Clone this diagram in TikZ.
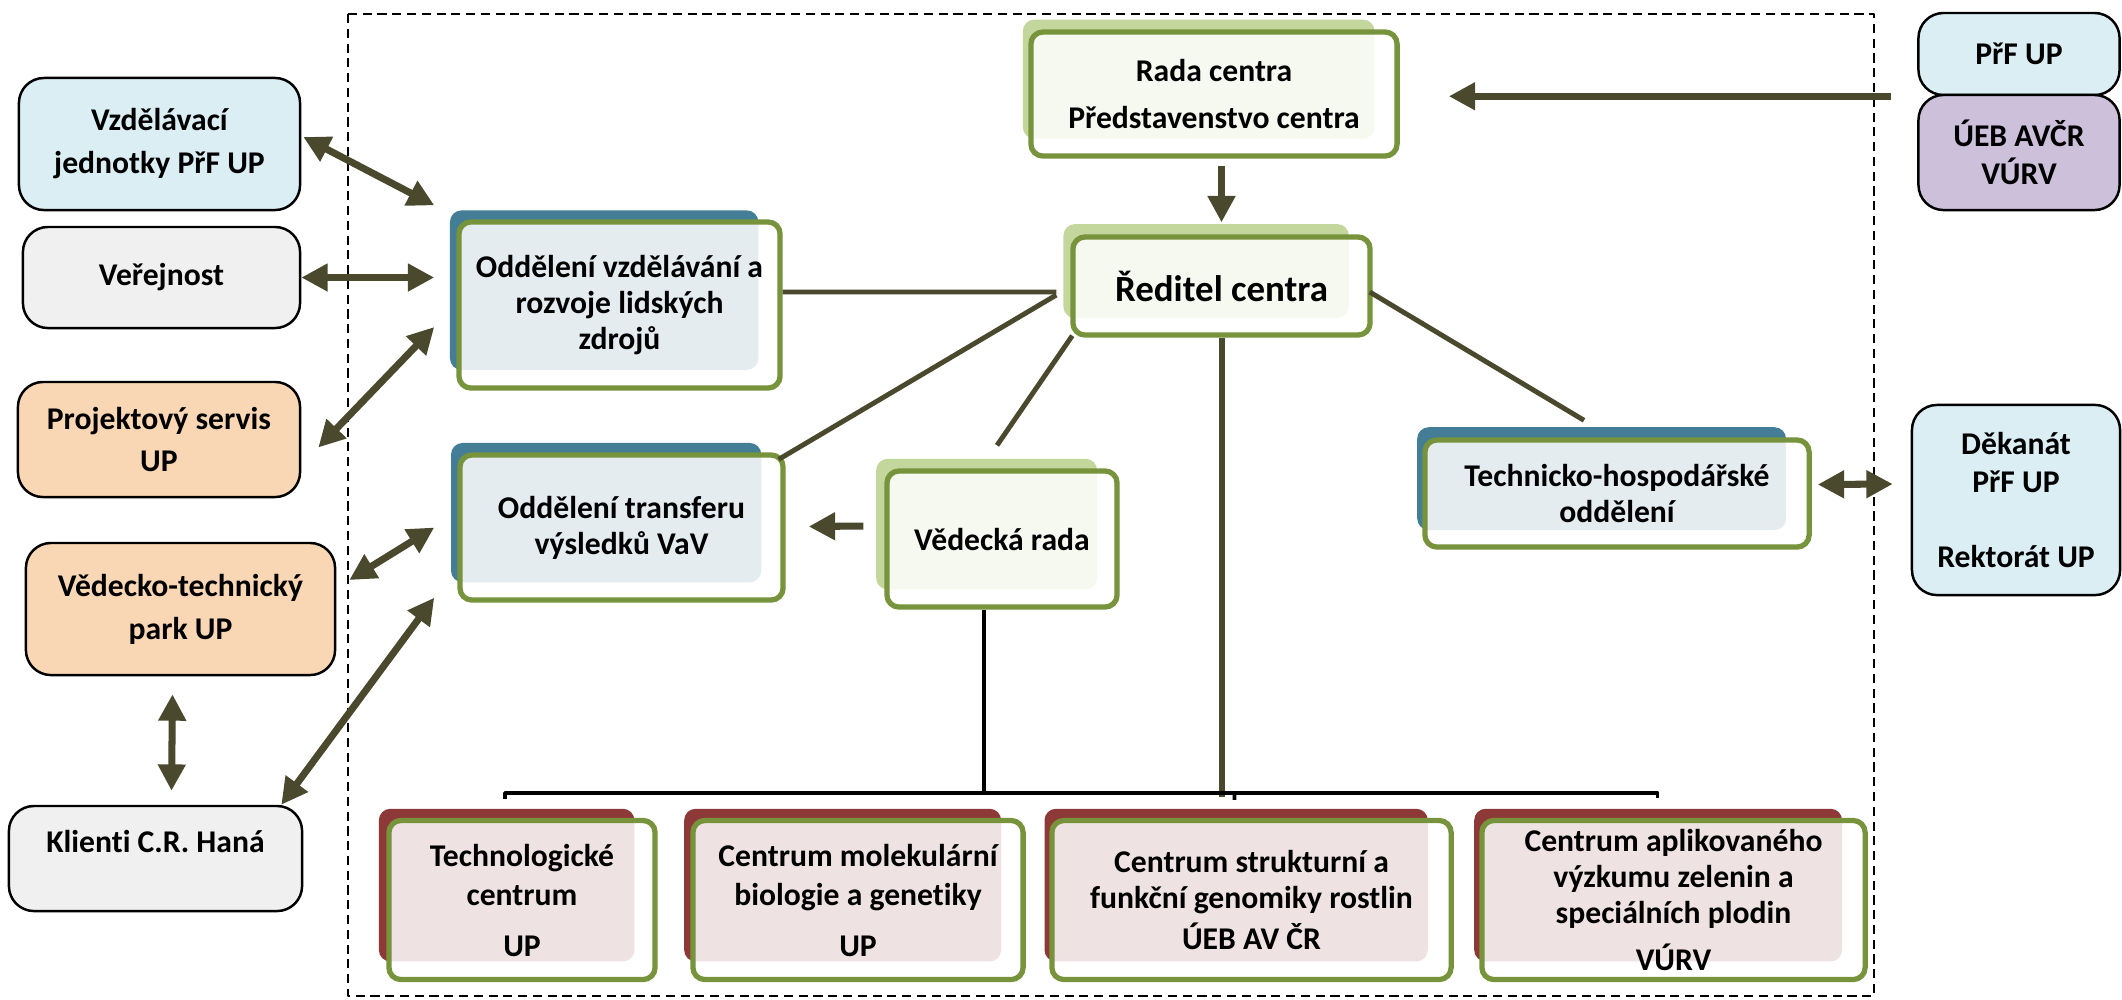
\documentclass[tikz,border=0pt]{standalone}
\usepackage{fontspec}
\setmainfont{Carlito}[Ligatures=NoCommon]
\usetikzlibrary{arrows.meta,shadows}

\definecolor{linkolive}{RGB}{74,73,46}
\definecolor{frontgreen}{RGB}{119,147,60}
\definecolor{tealback}{RGB}{67,126,150}
\definecolor{greenback}{RGB}{195,214,155}
\definecolor{redback}{RGB}{140,57,55}
\definecolor{paleblue}{RGB}{219,238,244}
\definecolor{palegrey}{RGB}{240,240,240}
\definecolor{peach}{RGB}{250,215,180}
\definecolor{lavender}{RGB}{204,192,218}

\tikzset{
  outerbox/.style={draw=black, line width=0.7pt, rounded corners=0.25cm, align=center, inner sep=0pt,
    font=\fontsize{9}{12.2}\selectfont\bfseries},
  unitbox/.style={draw=frontgreen, line width=1.5pt, fill=white, fill opacity=0.86, text opacity=1,
    rounded corners=0.12cm, align=center, inner sep=0pt, font=\fontsize{9}{10.3}\selectfont\bfseries},
  backing/.style={general shadow={shadow xshift=-0.16cm, shadow yshift=0.155cm, shadow scale=0.96,
    fill=#1, draw=none, fill opacity=1}},
  biarrow/.style={<->, draw=linkolive, line width=2pt},
  onearrow/.style={->, draw=linkolive, line width=2pt},
  link/.style={draw=linkolive, line width=1.4pt},
  bracket/.style={draw=black, line width=1.1pt},
}

\begin{document}
\begin{tikzpicture}[x=0.01cm, y=-0.01cm, line join=round, >={Triangle[length=7.5pt,width=7.5pt]}]
\useasboundingbox[fill=white] (0,0) rectangle (2122,999);
% frame of the centre
\draw[line width=0.6pt, dash pattern=on 2.6pt off 1.6pt] (348,14) rectangle (1874,996);

% partners outside
\node[outerbox, fill=paleblue, minimum width=2.81cm, minimum height=1.32cm] (vzdjed) at (159.5,144) {Vzdělávací\\jednotky PřF UP};
\node[outerbox, fill=palegrey, minimum width=2.77cm, minimum height=1.01cm] (verej) at (161.5,277.5) {Veřejnost};
\node[outerbox, fill=peach, minimum width=2.82cm, minimum height=1.15cm] (projserv) at (159,439.5) {Projektový servis\\UP};
\node[outerbox, fill=peach, minimum width=3.09cm, minimum height=1.32cm] (vtpark) at (180.5,609) {Vědecko-technický\\park UP};
\node[outerbox, fill=palegrey, minimum width=2.93cm, minimum height=1.05cm] (klienti) at (155.5,858.5) {Klienti C.R. Haná\\[-2.5pt]\mbox{}};
\node[outerbox, fill=paleblue, minimum width=2.01cm, minimum height=0.82cm] (prf) at (2019,54) {PřF UP};
\node[outerbox, fill=lavender, minimum width=2.01cm, minimum height=1.15cm, font=\fontsize{9}{10.8}\selectfont\bfseries] (ueb) at (2019,152.5) {ÚEB AVČR\\VÚRV};
\node[outerbox, fill=paleblue, minimum width=2.08cm, minimum height=1.90cm, font=\fontsize{9}{10.8}\selectfont\bfseries] (dekanat) at (2016,500) {Děkanát\\PřF UP\\[10.8pt]Rektorát UP};

% units of the centre
\node[unitbox, backing=greenback, minimum width=3.66cm, minimum height=1.24cm] (rada) at (1214,94) {Rada centra\\[3.3pt]Představenstvo centra};
\node[unitbox, backing=greenback, minimum width=2.97cm, minimum height=0.98cm, font=\fontsize{10.5}{12}\selectfont\bfseries] (reditel) at (1221.5,286) {Ředitel centra};
\node[unitbox, backing=tealback, minimum width=3.21cm, minimum height=1.66cm] (vzd) at (619.5,305) {Oddělení vzdělávání a\\rozvoje lidských\\zdrojů};
\node[unitbox, backing=tealback, minimum width=3.23cm, minimum height=1.45cm] (transfer) at (621.5,527.5) {Oddělení transferu\\výsledků VaV};
\node[unitbox, backing=greenback, minimum width=2.30cm, minimum height=1.36cm] (vedecka) at (1002,539) {Vědecká rada};
\node[unitbox, backing=tealback, minimum width=3.84cm, minimum height=1.07cm] (techhosp) at (1617,493.5) {Technicko-hospodářské\\oddělení};
\node[unitbox, backing=redback, minimum width=2.66cm, minimum height=1.59cm] (tech) at (522,900) {Technologické\\[1pt]centrum\\[4pt]UP};
\node[unitbox, backing=redback, minimum width=3.30cm, minimum height=1.59cm] (molbio) at (858,900) {Centrum molekulární\\[1pt]biologie a genetiky\\[4pt]UP};
\node[unitbox, backing=redback, minimum width=3.99cm, minimum height=1.59cm] (struktur) at (1251.5,900) {Centrum strukturní a\\funkční genomiky rostlin\\[1.5pt]ÚEB AV ČR};
\node[unitbox, backing=redback, minimum width=3.83cm, minimum height=1.59cm] (aplik) at (1673.5,900) {Centrum aplikovaného\\výzkumu zelenin a\\speciálních plodin\\[3pt]VÚRV};

% arrows across the frame
\draw[biarrow] ([shift={(2,-7)}]vzdjed.east) -- ([shift={(-22,-14)}]vzd.north west);
\draw[biarrow] (verej.east) -- ([xshift=-0.22cm]verej.east -| vzd.west);
\draw[biarrow] ([shift={(17,8)}]projserv.east) -- ([shift={(-22,22)}]vzd.west);
\draw[biarrow] ([shift={(13,-29)}]vtpark.east) -- ([xshift=-0.23cm]transfer.west);
\draw[biarrow] ([shift={(-8,18)}]vtpark.south) -- ([shift={(16,-14)}]klienti.north);
\draw[biarrow] ([xshift=-0.22cm]klienti.north east) -- ([shift={(-23,-5)}]transfer.south west);
\draw[onearrow] ([xshift=-0.26cm]prf.south west) -- ([xshift=0.49cm]rada.east |- prf.south west);
\draw[biarrow] ([shift={(6,-9)}]techhosp.east) -- ([shift={(-18,-16)}]dekanat.west);

% inside the centre
\draw[onearrow] ([yshift=-0.07cm]reditel.north |- rada.south) -- ([yshift=0.12cm]reditel.north);
\draw[onearrow] ([shift={(-21,-13)}]vedecka.west) -- ([shift={(23,-1)}]transfer.east);
\draw[link] ([yshift=0.13cm]vzd.east) -- ([shift={(-14,6)}]reditel.west);
\draw[link] ([shift={(-14,9)}]reditel.west) -- ([shift={(-7,7)}]transfer.north east);
\draw[link] ([shift={(2,-2)}]reditel.south west) -- ([shift={(-5,-23)}]vedecka.north);
\draw[link] ([shift={(-3,6)}]reditel.east) -- ([shift={(-33,-17)}]techhosp.north);
\coordinate (bar) at (984,793);
\draw[link, line width=1.7pt] (reditel.south) -- ([yshift=-0.04cm]reditel.south |- bar);
\draw[bracket] (bar |- vedecka.south) -- (bar);
\draw[bracket] ([shift={(-17,-19)}]tech.north) |- (bar) -| ([shift={(-16,-20)}]aplik.north);
\draw[bracket] ([xshift=-0.17cm]struktur.north |- bar) -- ([shift={(-17,-18)}]struktur.north);
\end{tikzpicture}
\end{document}
